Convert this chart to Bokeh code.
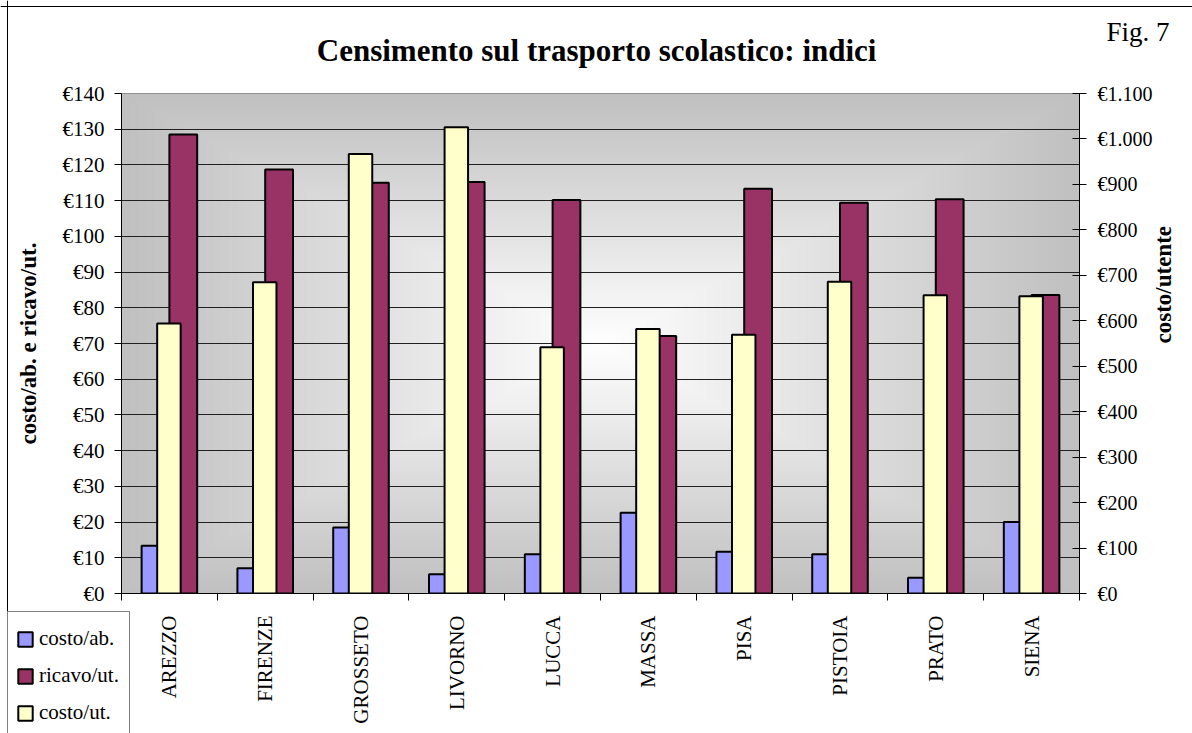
import math
import numpy as np
from bokeh.plotting import figure
from bokeh.layouts import column
from bokeh.models import (Range1d, LinearAxis, FixedTicker, SingleIntervalTicker,
                          CustomJSTickFormatter, Legend, LegendItem, Label,
                          ColumnDataSource, Grid, Span)
from bokeh.transform import dodge
from bokeh.embed import file_html
from bokeh.resources import INLINE

# ---------------- data ----------------
cities = ["AREZZO", "FIRENZE", "GROSSETO", "LIVORNO", "LUCCA",
          "MASSA", "PISA", "PISTOIA", "PRATO", "SIENA"]
costo_ab = [13.4, 7.1, 18.5, 5.4, 11.0, 22.6, 11.7, 11.0, 4.4, 20.0]
ricavo_ut = [128.5, 118.7, 115.0, 115.2, 110.2, 72.1, 113.3, 109.4, 110.4, 83.6]
costo_ut = [594, 685, 967, 1026, 542, 582, 569, 686, 656, 654]
left_ticks = list(range(0, 141, 10))
right_ticks = list(range(0, 1101, 100))
series_names = ["costo/ab.", "ricavo/ut.", "costo/ut."]
series_fields = ["costo_ab", "ricavo_ut", "costo_ut"]
series_colors = ["#9999FF", "#993366", "#FFFFCC"]

FONT = "Liberation Serif"
W, H = 1192, 733

src = ColumnDataSource(dict(x=list(range(len(cities))), city=cities,
                            costo_ab=costo_ab, ricavo_ut=ricavo_ut, costo_ut=costo_ut))

x0, x1 = -0.5, len(cities) - 0.5
y0, y1 = left_ticks[0], left_ticks[-1]

p = figure(width=W, height=H, x_range=Range1d(x0, x1), y_range=Range1d(y0, y1),
           output_backend="svg", toolbar_location=None,
           x_axis_type=None, y_axis_type=None,
           min_border_left=121, min_border_right=113, min_border_top=93, min_border_bottom=140,
           title="Censimento sul trasporto scolastico:  indici")
p.extra_y_ranges = {"ut": Range1d(right_ticks[0], right_ticks[-1])}

p.title.align = "center"
p.title.text_font = FONT
p.title.text_font_size = "31px"
p.title.text_font_style = "bold"
p.title.text_color = "black"
p.title.standoff = 51

p.background_fill_color = "#c0c0c0"
p.border_fill_color = "white"
p.outline_line_color = "#808080"
p.outline_line_width = 1

# gradient background (from centre, Excel-like)
nx, ny = 480, 250
gx = np.linspace(-1, 1, nx)
gy = np.linspace(-1, 1, ny)
GX, GY = np.meshgrid(gx, gy)
dist = np.clip(np.maximum(np.abs(GX), np.abs(GY)), 0, 1)
val = (255 - (255 - 0xC0) * dist).astype(np.uint8)
img = np.empty((ny, nx), dtype=np.uint32)
view = img.view(dtype=np.uint8).reshape((ny, nx, 4))
view[..., 0] = val
view[..., 1] = val
view[..., 2] = val
view[..., 3] = 255
p.image_rgba(image=[img], x=x0, y=y0, dw=x1 - x0, dh=y1 - y0, level="image")

# grid
grid = Grid(dimension=1, ticker=FixedTicker(ticks=left_ticks[1:-1]),
            grid_line_color="#202020", grid_line_width=1)
p.add_layout(grid)

# bars
rb = p.vbar(x=dodge("x", -0.145), top="costo_ab", width=0.29, source=src,
            fill_color=series_colors[0], line_color="black", line_width=2)
rr = p.vbar(x=dodge("x", 0.145), top="ricavo_ut", width=0.29, source=src,
            fill_color=series_colors[1], line_color="black", line_width=2)
ry = p.vbar(x=dodge("x", -0.005), top="costo_ut", width=0.245, source=src,
            y_range_name="ut",
            fill_color=series_colors[2], line_color="black", line_width=2)

# axes
def style_axis(ax):
    ax.axis_line_color = "black"
    ax.axis_line_width = 1
    ax.major_tick_line_color = "black"
    ax.minor_tick_line_color = None
    ax.major_label_text_font = FONT
    ax.major_label_text_font_size = "20px"
    ax.major_label_text_color = "black"
    ax.axis_label_text_font = FONT
    ax.axis_label_text_font_size = "23px"
    ax.axis_label_text_font_style = "bold"
    ax.axis_label_text_color = "black"

left = LinearAxis(ticker=SingleIntervalTicker(interval=10),
                  formatter=CustomJSTickFormatter(code='return "\u20ac" + tick.toFixed(0);'),
                  axis_label="costo/ab. e ricavo/ut.")
style_axis(left)
left.major_label_text_font_size = "21px"
left.major_tick_out = 7
left.major_tick_in = 0
left.major_label_standoff = 10
left.axis_label_standoff = 19
p.add_layout(left, "left")

right = LinearAxis(y_range_name="ut", ticker=SingleIntervalTicker(interval=100),
                   formatter=CustomJSTickFormatter(code='return "\u20ac" + Math.round(tick).toString().replace(/\\B(?=(\\d{3})+(?!\\d))/g, ".");'),
                   axis_label="costo/utente")
style_axis(right)
right.major_tick_out = 7
right.major_tick_in = 7
right.major_label_standoff = 11
right.axis_label_standoff = 8
if "axis_label_orientation" in LinearAxis.properties():
    right.axis_label_orientation = math.pi / 2
p.add_layout(right, "right")

bottom = LinearAxis(ticker=FixedTicker(ticks=list(range(len(cities))),
                                       minor_ticks=[i - 0.5 for i in range(len(cities) + 1)]),
                    formatter=CustomJSTickFormatter(args=dict(names=cities),
                                                    code="return names[Math.round(tick)] || '';"))
style_axis(bottom)
bottom.major_tick_line_color = None
bottom.major_tick_out = 0
bottom.major_tick_in = 0
bottom.minor_tick_line_color = "black"
bottom.minor_tick_out = 7
bottom.minor_tick_in = 0
bottom.major_label_orientation = math.pi / 2
bottom.major_label_text_font_size = "21px"
bottom.major_label_standoff = 15
p.add_layout(bottom, "below")

# ---------------- overlay (legend, Fig. label, chart-area border) ----------------
q = figure(width=W, height=H, x_range=Range1d(0, W), y_range=Range1d(0, H),
           output_backend="svg", toolbar_location=None,
           x_axis_type=None, y_axis_type=None, min_border=0)
q.border_fill_alpha = 0
q.background_fill_alpha = 0
q.outline_line_color = None
q.styles = {"margin-top": f"-{H}px"}
if "frame_align" in q.properties():
    q.frame_align = False
    p.frame_align = False

# invisible stand-ins that carry the series styling for the legend
stand_ins = [q.vbar(x="x", top=f, width=1, source=src, fill_color=c,
                    line_color="black", line_width=2, visible=False)
             for f, c in zip(series_fields, series_colors)]

legend = Legend(items=[LegendItem(label=n, renderers=[r]) for n, r in zip(series_names, stand_ins)],
                location=(7, -7))
legend.click_policy = "none"
legend.inactive_fill_alpha = 0
legend.label_text_font = FONT
legend.label_text_font_size = "21px"
legend.label_text_color = "black"
legend.glyph_width = 18
legend.glyph_height = 18
legend.label_height = 37
legend.label_width = 82
legend.label_standoff = 5
legend.padding = 8
legend.spacing = 0
legend.margin = 0
legend.border_line_color = "black"
legend.border_line_width = 1
legend.background_fill_color = "white"
legend.background_fill_alpha = 1
q.add_layout(legend)

q.add_layout(Span(location=7, dimension="height", line_color="black", line_width=1))
q.add_layout(Span(location=H - 6, dimension="width", line_color="black", line_width=1))

q.add_layout(Label(x=1106, y=H - 31, x_units="screen", y_units="screen", text="Fig. 7",
                   text_font=FONT, text_font_size="27px", text_color="black",
                   text_baseline="alphabetic"))

layout = column(p, q, spacing=0)
open("out.html", "w").write(file_html(layout, INLINE))
